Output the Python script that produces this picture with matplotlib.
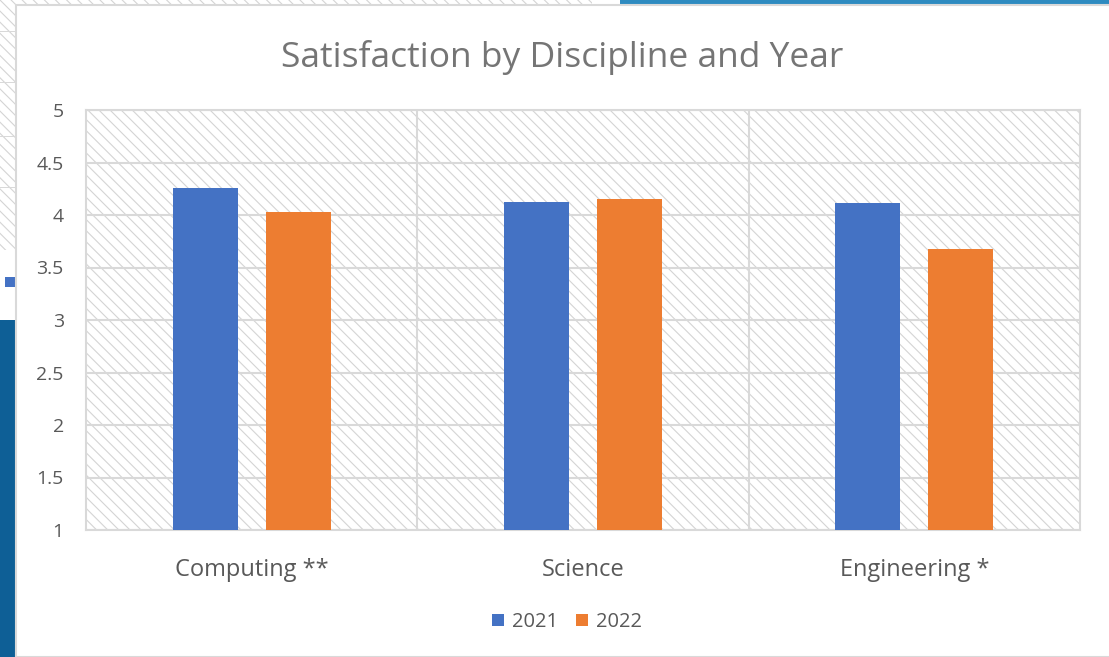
import matplotlib.pyplot as plt
from matplotlib.patches import Rectangle

# Dados
categorias = ['Computing **', 'Science', 'Engineering *']
anos = ['2021', '2022']
valores_2021 = [4.26, 4.12, 4.11]
valores_2022 = [4.03, 4.15, 3.68]
y_ticks = [1, 1.5, 2, 2.5, 3, 3.5, 4, 4.5, 5]
y_labels = ['1', '1.5', '2', '2.5', '3', '3.5', '4', '4.5', '5']

azul = '#4472c4'
laranja = '#ed7d31'
cinza_grade = '#d9d9d9'
cinza_texto = '#595959'
cinza_hachura = '#d4d4d4'

plt.rcParams['font.family'] = ['Open Sans', 'DejaVu Sans']
plt.rcParams['hatch.linewidth'] = 0.8

W, H = 1109, 657
fig = plt.figure(figsize=(W / 100, H / 100), dpi=100)

def fx(px):
    return px / W

def fy(py):
    return 1 - py / H

# Restos da captura de tela ao fundo (bordas esquerda e superior)
fig.patches.append(Rectangle((0, fy(250)), fx(16), 1 - fy(250), transform=fig.transFigure,
                             facecolor='white', edgecolor=cinza_hachura, hatch='\\\\\\', linewidth=0, zorder=0))
for py in [32, 83, 137, 188]:
    fig.patches.append(Rectangle((0, fy(py)), fx(16), 1.5 / H, transform=fig.transFigure,
                                 facecolor='#d9d9d9', linewidth=0, zorder=1))
fig.patches.append(Rectangle((fx(5), fy(287)), fx(10), 10 / H, transform=fig.transFigure,
                             facecolor=azul, linewidth=0, zorder=1))
fig.patches.append(Rectangle((0, 0), fx(15), fy(320), transform=fig.transFigure,
                             facecolor='#0e5f96', linewidth=0, zorder=1))
fig.patches.append(Rectangle((0, fy(5)), fx(592), 5 / H, transform=fig.transFigure,
                             facecolor='white', edgecolor=cinza_hachura, hatch='\\\\\\', linewidth=0, zorder=0))
fig.patches.append(Rectangle((fx(620), fy(4)), 1 - fx(620), 4 / H, transform=fig.transFigure,
                             facecolor='#2e8bc0', linewidth=0, zorder=1))
# moldura do gráfico
fig.patches.append(Rectangle((fx(16), 0), 1, fy(5), transform=fig.transFigure,
                             facecolor='none', edgecolor='#d9d9d9', linewidth=1.5, zorder=2))

ax = fig.add_axes([fx(86), fy(530), fx(1080) - fx(86), fy(110) - fy(530)])
ax.set_facecolor('white')
ax.add_patch(Rectangle((0, 0), 1, 1, transform=ax.transAxes, facecolor='white',
                       edgecolor=cinza_hachura, hatch='\\\\\\', linewidth=0, zorder=0))

x = list(range(len(categorias)))
largura = 0.196
desloc = 0.14
ax.bar([i - desloc for i in x], valores_2021, largura, color=azul, label=anos[0], zorder=3)
ax.bar([i + desloc for i in x], valores_2022, largura, color=laranja, label=anos[1], zorder=3)

ax.set_xlim(-0.5, 2.5)
ax.set_ylim(1, 5)
ax.set_yticks(y_ticks)
ax.set_yticklabels(y_labels)
ax.set_xticks(x)
ax.set_xticklabels(categorias)
ax.set_xticks([0.5, 1.5], minor=True)

ax.set_axisbelow(True)
ax.grid(axis='y', which='major', color=cinza_grade, linewidth=1.5)
ax.grid(axis='x', which='minor', color=cinza_grade, linewidth=1.5)
for s in ax.spines.values():
    s.set_color(cinza_grade)
    s.set_linewidth(1.5)

ax.tick_params(axis='both', which='both', length=0, colors=cinza_texto)
ax.tick_params(axis='y', labelsize=14, pad=16)
ax.tick_params(axis='x', labelsize=17, pad=20)

fig.text(fx(562), fy(67), 'Satisfaction by Discipline and Year', ha='center', va='baseline',
         fontsize=25.5, color='#757575')

fig.legend(loc='center', bbox_to_anchor=(fx(567), fy(622)), ncol=2, frameon=False,
           fontsize=14.5, labelcolor=cinza_texto, handlelength=0.6, handleheight=0.6,
           handletextpad=0.4, columnspacing=0.9)

plt.savefig('out.png', dpi=100)
plt.close()
